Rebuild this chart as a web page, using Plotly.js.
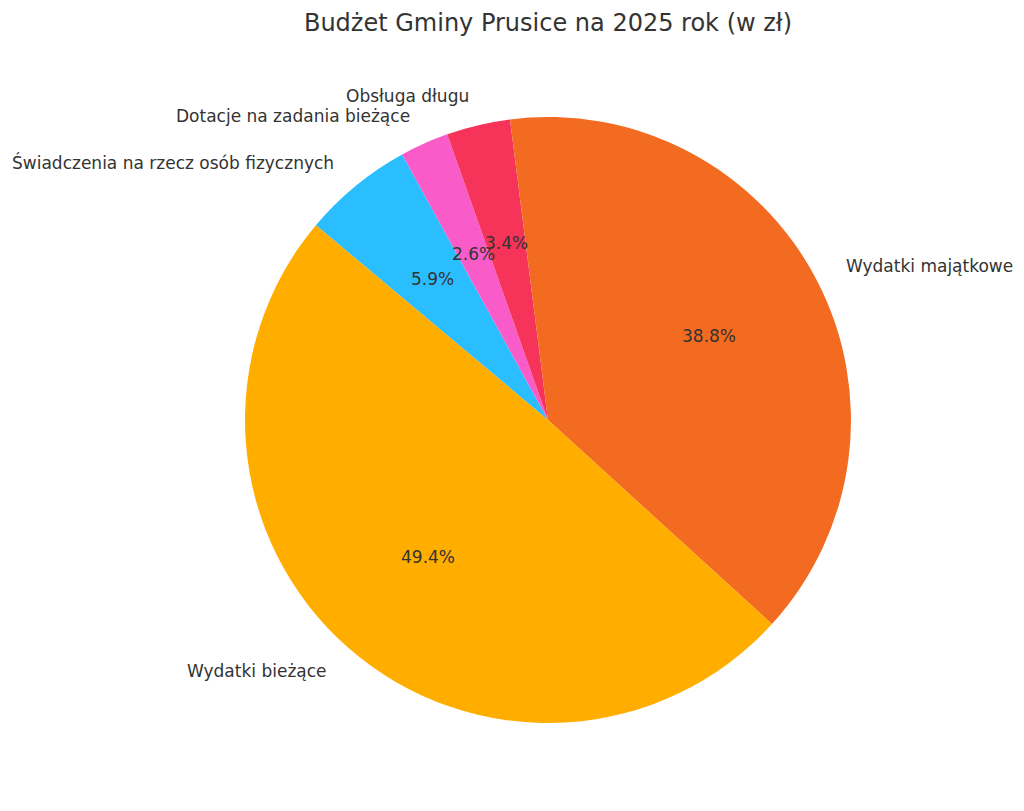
<!DOCTYPE html>
<html>
<head>
<meta charset="utf-8">
<script src="https://cdn.plot.ly/plotly-3.0.1.min.js"></script>
<style>
  html, body { margin: 0; padding: 0; background: #ffffff; }
  #chart { width: 1024px; height: 811px; }
</style>
</head>
<body>
<div id="chart"></div>
<script>
// slice order as drawn, clockwise starting from the upper left
const labels = ['Świadczenia na rzecz osób fizycznych', 'Dotacje na zadania bieżące',
                'Obsługa długu', 'Wydatki majątkowe', 'Wydatki bieżące'];
const shares = [5.9, 2.6, 3.4, 38.8, 49.4];
const colors = ['#2BBEFF', '#F95BC8', '#F63358', '#F36B21', '#FFAE00'];

const startAngle = 140; // degrees, counterclockwise from east
const textFont = { family: 'DejaVu Sans, sans-serif', size: 17, color: '#333333' };

function sliceAnnotations() {
    const total = shares.reduce((a, b) => a + b, 0);
    const notes = [];
    let acc = 0;
    shares.forEach((v, i) => {
        const frac = v / total;
        const mid = (startAngle - 360 * (acc + frac / 2)) * Math.PI / 180;
        acc += frac;
        const cx = Math.cos(mid), cy = Math.sin(mid);
        // pie fills the plot area, so centre is (0.5, 0.5) and radius 0.5 in paper units
        notes.push({
            xref: 'paper', yref: 'paper',
            x: 0.5 + 0.55 * cx, y: 0.5 + 0.55 * cy,
            xanchor: cx > 0 ? 'left' : 'right', yanchor: 'middle',
            text: labels[i], showarrow: false, font: textFont
        });
        notes.push({
            xref: 'paper', yref: 'paper',
            x: 0.5 + 0.3 * cx, y: 0.5 + 0.3 * cy,
            xanchor: 'center', yanchor: 'middle',
            text: (frac * 100).toFixed(1) + '%', showarrow: false, font: textFont
        });
    });
    return notes;
}

const data = [{
    type: 'pie',
    labels: labels,
    values: shares,
    sort: false,
    direction: 'clockwise',
    rotation: 90 - startAngle, // degrees clockwise from 12 o'clock
    textinfo: 'none',
    hoverinfo: 'label+percent',
    marker: { colors: colors, line: { width: 0 } },
    showlegend: false
}];

const layout = {
    width: 1024,
    height: 811,
    margin: { l: 245, r: 173, t: 117, b: 88 },
    paper_bgcolor: '#ffffff',
    plot_bgcolor: '#ffffff',
    title: {
        text: 'Budżet Gminy Prusice na 2025 rok (w zł)',
        x: 0.5, xref: 'paper', xanchor: 'center',
        y: 1 - 23 / 811, yref: 'container', yanchor: 'middle',
        font: { family: 'DejaVu Sans, sans-serif', size: 24, color: '#333333' }
    },
    annotations: sliceAnnotations()
};

Plotly.newPlot('chart', data, layout, { displayModeBar: false, staticPlot: true });
</script>
</body>
</html>
